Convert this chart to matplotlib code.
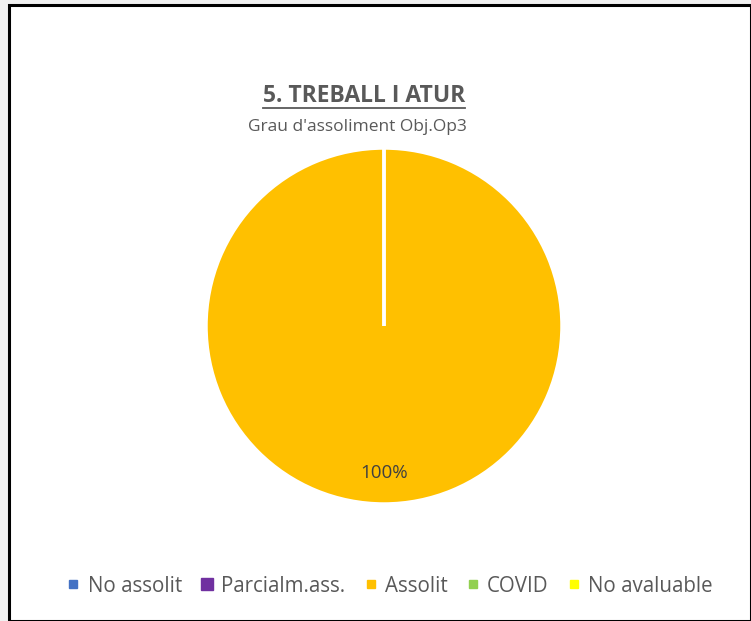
import matplotlib
matplotlib.use("Agg")
import matplotlib.pyplot as plt
from matplotlib.patches import Rectangle
from matplotlib.lines import Line2D

CATEGORIES = ["No assolit", "Parcialm.ass.", "Assolit", "COVID", "No avaluable"]
VALUES     = [0, 0, 100, 0, 0]
COLORS     = ["#4472C4", "#7030A0", "#FFC000", "#92D050", "#FFFF00"]
MARK_SIZES = [5.5, 9, 5.5, 5.5, 5.5]
TITLE      = "5. TREBALL I ATUR"
SUBTITLE   = "Grau d'assoliment Obj.Op3"
TEXT_COLOR = "#595959"

plt.rcParams["font.family"] = ["Open Sans", "DejaVu Sans"]

W, H = 751, 621
fig = plt.figure(figsize=(W / 100, H / 100), dpi=100)
fig.patch.set_facecolor("#f0f0f0")

# white chart area with black frame
fig.patches.append(Rectangle((9 / W, 0), (W - 9) / W, (H - 5) / H,
                             transform=fig.transFigure, facecolor="white",
                             edgecolor="black", linewidth=2.2, zorder=-5))

# pie: centre (384, 326), radius ~177 px
r = 178
cx, cy = 384, 326
ax = fig.add_axes([(cx - r) / W, (H - cy - r) / H, 2 * r / W, 2 * r / H])
ax.set_facecolor("none")
wedges, texts, autotexts = ax.pie(
    VALUES, colors=COLORS, startangle=90, counterclock=False,
    autopct=lambda p: f"{p:.0f}%" if p > 0 else "",
    pctdistance=0.825,
    wedgeprops=dict(edgecolor="white", linewidth=2.5),
    textprops=dict(color="#404040", fontsize=13.5))
ax.set_xlim(-1, 1)
ax.set_ylim(-1, 1)
ax.set_aspect("equal")

title = fig.text(364 / W, 1 - 96 / H, TITLE, ha="center", va="center",
                 fontsize=16.5, fontweight="bold", color=TEXT_COLOR)
fig.text(357 / W, 1 - 127 / H, SUBTITLE, ha="center", va="center",
         fontsize=12.5, color=TEXT_COLOR)

# underline the title
renderer = fig.canvas.get_renderer()
bb = title.get_window_extent(renderer).transformed(fig.transFigure.inverted())
fig.add_artist(Line2D([bb.x0, bb.x1], [1 - 108 / H, 1 - 108 / H],
                      color=TEXT_COLOR, linewidth=1.3))

handles = [Line2D([], [], marker="s", linestyle="", color=c, markersize=s)
           for c, s in zip(COLORS, MARK_SIZES)]
fig.legend(handles, CATEGORIES, loc="center", bbox_to_anchor=(390 / W, 1 - 586 / H),
           ncol=5, frameon=False, fontsize=14.8, labelcolor=TEXT_COLOR,
           handlelength=0.6, handletextpad=0.4, columnspacing=0.92)

fig.savefig("out.png", dpi=100)
